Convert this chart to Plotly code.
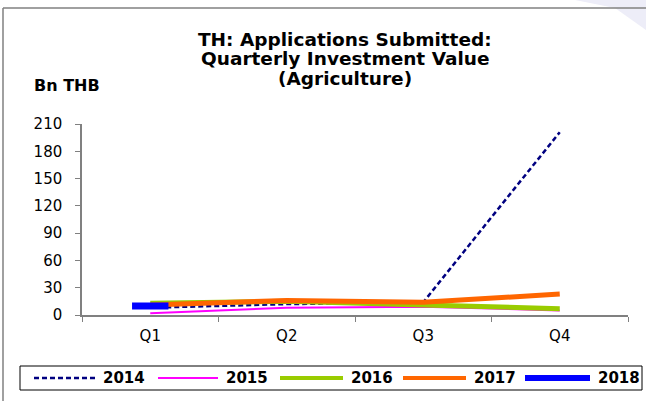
import plotly.graph_objects as go

# quarterly investment value, Bn THB
quarters = ['Q1', 'Q2', 'Q3', 'Q4']
years = ['2014', '2015', '2016', '2017', '2018']
v2014 = [8, 12, 14, 201]
v2015 = [2, 8, 9, 5]
v2016 = [13, 15, 11, 7]
v2017 = [11, 16, 14, 23]
v2018 = [10]

W, H = 646, 401
L, R, T, B = 82, 18, 124, 86
pw, ph = W - L - R, H - T - B


def px(x):
    return (x - L) / pw


def py(y):
    return (H - B - y) / ph


fnt = 'DejaVu Sans, Arial, sans-serif'

styles = {
    '2014': dict(color='#000080', width=2.5, dash='5px,3px'),
    '2015': dict(color='#FF00FF', width=2),
    '2016': dict(color='#99CC00', width=5),
    '2017': dict(color='#FF6600', width=5),
    '2018': dict(color='#0000FF', width=7),
}

fig = go.Figure()
for yr, vals in zip(years[:4], [v2014, v2015, v2016, v2017]):
    fig.add_trace(go.Scatter(x=quarters, y=vals, name=yr, mode='lines', line=styles[yr]))
# 2018 has only the first quarter
fig.add_trace(go.Scatter(x=quarters[:1], y=v2018, name='2018', mode='markers',
                         marker=dict(symbol='line-ew', size=26, color='#0000FF',
                                     line=dict(color='#0000FF', width=7))))

# frame of the chart and the faint corner decoration
fig.add_shape(type='path', xref='paper', yref='paper',
              path=f'M {px(575)} {py(0)} L {px(646)} {py(0)} L {px(646)} {py(30)} '
                   f'L {px(615)} {py(8)} Z',
              fillcolor='#EDEDF8', line=dict(width=0), layer='below')
fig.add_shape(type='line', xref='paper', yref='paper',
              x0=px(3), x1=px(646), y0=py(8), y1=py(8),
              line=dict(color='#808080', width=1.5))
fig.add_shape(type='line', xref='paper', yref='paper',
              x0=px(3), x1=px(3), y0=py(8), y1=py(401),
              line=dict(color='#808080', width=1.5))

# title lines
for txt, yc in zip(['TH: Applications Submitted:', 'Quarterly Investment Value', '(Agriculture)'],
                   [39, 58.5, 78]):
    fig.add_annotation(text=f'<b>{txt}</b>', xref='paper', yref='paper',
                       x=px(345), y=py(yc), xanchor='center', yanchor='middle',
                       showarrow=False, font=dict(family=fnt, size=18.5, color='black'))

fig.add_annotation(text='<b>Bn THB</b>', xref='paper', yref='paper',
                   x=px(32), y=py(86), xanchor='left', yanchor='middle',
                   showarrow=False, font=dict(family=fnt, size=16, color='black'))

# legend box drawn by hand so the line samples get the long Excel look
fig.add_shape(type='rect', xref='paper', yref='paper',
              x0=px(20), x1=px(642), y0=py(366), y1=py(390),
              line=dict(color='black', width=1), fillcolor='white')
sample_x = [(34, 95), (158, 218), (280, 343), (403, 466), (525, 590)]
for yr, (a, b) in zip(years, sample_x):
    st = dict(styles[yr])
    if yr == '2018':
        st['width'] = 6
    elif yr in ('2016', '2017'):
        st['width'] = 4
    fig.add_shape(type='line', xref='paper', yref='paper',
                  x0=px(a), x1=px(b), y0=py(378), y1=py(378), line=st)
    fig.add_annotation(text=f'<b>{yr}</b>', xref='paper', yref='paper',
                       x=px(b + 6), y=py(378), xanchor='left', yanchor='middle',
                       showarrow=False, font=dict(family=fnt, size=15, color='black'))

fig.update_layout(
    width=W, height=H,
    margin=dict(l=L, r=R, t=T, b=B, autoexpand=False),
    paper_bgcolor='white', plot_bgcolor='white',
    font=dict(family=fnt, size=15, color='black'),
    showlegend=False,
)
fig.update_xaxes(range=[-0.5, 3.5], tickson='boundaries', ticks='outside', ticklen=5,
                 tickcolor='#808080', showline=True, linecolor='#808080', linewidth=1.5,
                 showgrid=False, zeroline=False, tickfont=dict(size=15),
                 ticklabelstandoff=6)
fig.update_yaxes(range=[0, 210], dtick=30, ticks='outside', ticklen=5,
                 tickcolor='#808080', showline=True, linecolor='#808080', linewidth=1.5,
                 showgrid=False, zeroline=False, tickfont=dict(size=15),
                 ticklabelstandoff=10)

# drop the page's default body margin so the figure sits at the window corner
fig.write_html('out.html', config={'displayModeBar': False},
               post_script="document.body.style.margin='0';document.body.style.overflow='hidden';")
